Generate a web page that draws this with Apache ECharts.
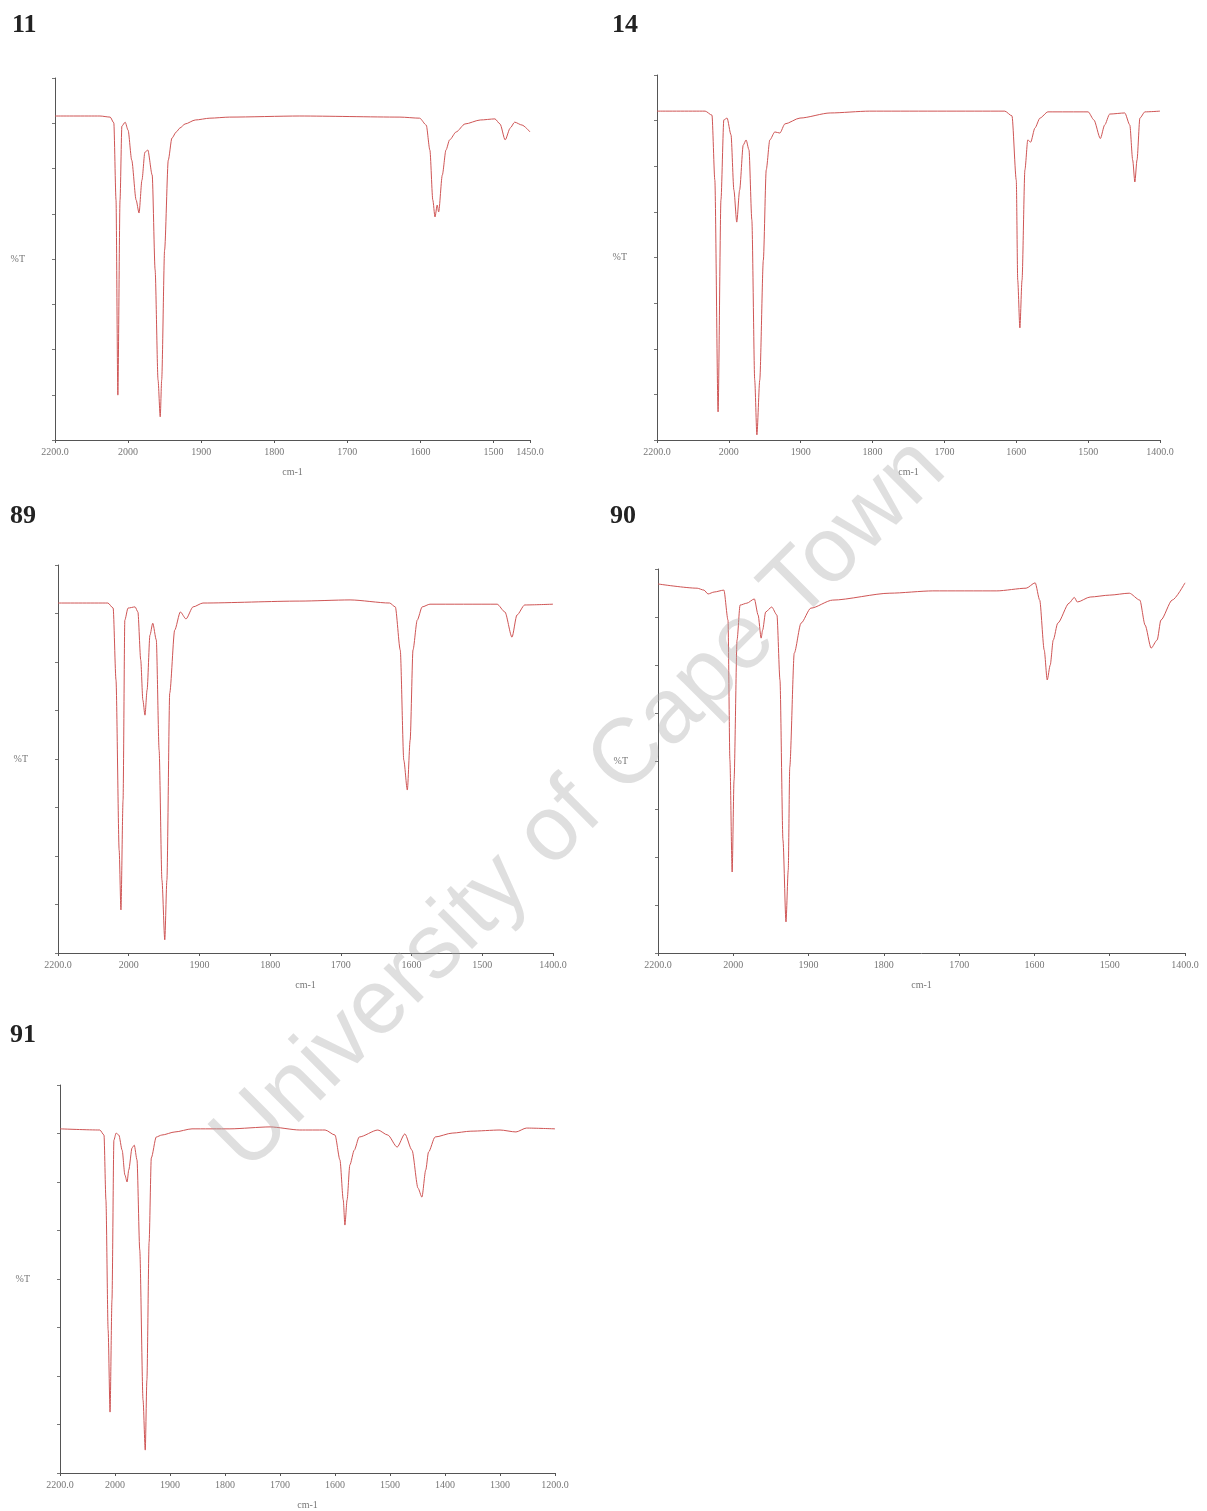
<!DOCTYPE html>
<html>
<head>
<meta charset="utf-8">
<script src="https://cdn.jsdelivr.net/npm/echarts@6/dist/echarts.min.js"></script>
<style>
html, body { margin: 0; background: #fff; }
#main { width: 1207px; height: 1511px; }
</style>
</head>
<body>
<div id="main"></div>
<script>
// IR spectra, wavenumber (cm-1) vs %T
// axis is compressed 2:1 above 2000 cm-1, like the instrument plots

var wave11 = [2200, 2077, 2049, 2039, 2033, 2028, 2022, 2017, 2008, 2000, 1995, 1989, 1985, 1981, 1977, 1973, 1967, 1963, 1959, 1956, 1954, 1950, 1945, 1940, 1934, 1929, 1922, 1908, 1888, 1861, 1765, 1628, 1601, 1592, 1587, 1583, 1580, 1577, 1575, 1570, 1565, 1560, 1551, 1539, 1518, 1498, 1491, 1484, 1477, 1471, 1461, 1450];
var trans11 = [89.5, 89.5, 89.2, 87.6, 66.3, 12.4, 66.3, 86.7, 87.8, 85.6, 77.3, 66.3, 62.7, 71.8, 79.5, 80.1, 73.2, 47.0, 16.6, 6.4, 16.6, 52.5, 77.3, 83.4, 85.1, 86.2, 87.3, 88.4, 88.9, 89.2, 89.5, 89.2, 88.9, 87.0, 80.1, 66.3, 61.6, 64.9, 63.0, 73.2, 80.1, 82.9, 85.1, 87.3, 88.4, 88.7, 87.3, 82.9, 86.2, 87.8, 87.0, 85.1];
var ticks11 = [2200, 2000, 1900, 1800, 1700, 1600, 1500, 1450];

var wave14 = [2200, 2066, 2047, 2039, 2030, 2022, 2014, 2005, 1997, 1993, 1989, 1985, 1980, 1976, 1972, 1968, 1964, 1961, 1957, 1952, 1948, 1943, 1936, 1929, 1922, 1901, 1859, 1804, 1616, 1606, 1600, 1598, 1595, 1592, 1588, 1584, 1580, 1574, 1567, 1556, 1500, 1492, 1483, 1477, 1470, 1449, 1442, 1438, 1435, 1432, 1428, 1421, 1400];
var trans14 = [90.1, 90.1, 89.0, 71.2, 7.7, 65.8, 87.7, 88.2, 83.6, 68.5, 59.7, 68.5, 80.8, 82.2, 79.5, 60.3, 16.4, 1.4, 16.4, 49.3, 74.0, 82.2, 84.4, 84.1, 86.6, 88.2, 89.6, 90.1, 90.1, 88.8, 71.2, 43.8, 30.7, 43.8, 74.0, 82.2, 81.6, 85.5, 88.2, 89.9, 89.9, 87.7, 82.6, 86.3, 89.3, 89.6, 86.3, 76.7, 70.7, 76.7, 88.2, 89.9, 90.1];
var ticks14 = [2200, 2000, 1900, 1800, 1700, 1600, 1500, 1400];

var wave89 = [2200, 2059, 2044, 2036, 2027, 2022, 2016, 2011, 2002, 1991, 1987, 1983, 1980, 1977, 1974, 1970, 1966, 1961, 1957, 1953, 1949, 1946, 1942, 1935, 1927, 1919, 1909, 1895, 1758, 1687, 1631, 1623, 1616, 1611, 1606, 1602, 1598, 1592, 1585, 1574, 1479, 1468, 1458, 1451, 1440, 1400];
var trans89 = [90.2, 90.2, 88.9, 70.4, 26.5, 11.1, 39.4, 85.8, 88.9, 89.2, 87.9, 75.5, 65.2, 61.3, 67.8, 81.9, 85.0, 80.7, 52.3, 18.8, 3.4, 18.8, 67.0, 83.2, 87.9, 86.1, 89.2, 90.2, 90.7, 91.0, 90.2, 89.2, 78.1, 49.7, 42.0, 54.9, 78.1, 85.8, 89.2, 89.9, 89.9, 87.9, 81.4, 87.1, 89.7, 89.9];
var ticks89 = [2200, 2000, 1900, 1800, 1700, 1600, 1500, 1400];

var wave90 = [2200, 2096, 2078, 2067, 2051, 2025, 2014, 2009, 2003, 1999, 1995, 1991, 1982, 1972, 1967, 1963, 1961, 1957, 1949, 1942, 1938, 1934, 1930, 1927, 1925, 1919, 1910, 1897, 1868, 1792, 1735, 1650, 1611, 1599, 1593, 1587, 1583, 1579, 1575, 1569, 1554, 1547, 1543, 1526, 1500, 1474, 1460, 1453, 1445, 1437, 1432, 1417, 1400];
var trans90 = [96.1, 95.0, 94.5, 93.5, 94.0, 94.5, 86.7, 50.3, 21.1, 45.0, 81.5, 90.6, 91.1, 92.2, 88.0, 82.0, 84.1, 88.8, 90.1, 88.0, 71.1, 29.4, 8.1, 21.6, 48.4, 78.1, 85.9, 89.8, 91.9, 93.7, 94.3, 94.3, 95.0, 96.4, 91.9, 78.9, 71.1, 75.0, 81.5, 85.9, 91.1, 92.6, 91.4, 92.7, 93.2, 93.7, 91.9, 85.4, 79.4, 81.5, 86.7, 91.9, 96.4];
var ticks90 = [2200, 2000, 1900, 1800, 1700, 1600, 1500, 1400];

var wave91 = [2200, 2055, 2040, 2033, 2025, 2018, 2011, 2004, 1998, 1993, 1987, 1982, 1978, 1975, 1969, 1965, 1960, 1955, 1949, 1945, 1942, 1938, 1934, 1925, 1915, 1891, 1860, 1791, 1718, 1664, 1618, 1600, 1591, 1585, 1582, 1578, 1573, 1565, 1556, 1522, 1504, 1487, 1473, 1460, 1449, 1442, 1435, 1430, 1418, 1387, 1353, 1300, 1271, 1252, 1200];
var trans91 = [88.7, 88.4, 87.1, 70.4, 36.9, 15.7, 44.6, 85.8, 87.6, 87.1, 83.2, 76.8, 75.0, 78.1, 83.8, 84.5, 80.7, 57.5, 18.8, 5.9, 24.0, 59.5, 81.2, 86.6, 87.1, 87.9, 88.7, 88.7, 89.2, 88.4, 88.4, 87.1, 80.7, 70.4, 63.9, 70.4, 79.4, 83.2, 86.6, 88.4, 87.1, 84.0, 87.4, 83.2, 73.4, 71.1, 78.1, 82.7, 86.6, 87.6, 88.1, 88.4, 87.9, 88.9, 88.7];
var ticks91 = [2200, 2000, 1900, 1800, 1700, 1600, 1500, 1400, 1300, 1200];

// wavenumber -> axis position (2200-2000 squeezed to half)
function toAxis(w) {
    return w > 2000 ? 2000 + (w - 2000) / 2 : w;
}
function fromAxis(u) {
    return u > 2000 ? 2000 + (u - 2000) * 2 : u;
}

var panels = [
    { name: '11', wave: wave11, trans: trans11, ticks: ticks11, left: 55, top: 78, width: 475, height: 362, tx: 12, ty: 12 },
    { name: '14', wave: wave14, trans: trans14, ticks: ticks14, left: 657, top: 75, width: 503, height: 365, tx: 612, ty: 12 },
    { name: '89', wave: wave89, trans: trans89, ticks: ticks89, left: 58, top: 565, width: 495, height: 388, tx: 10, ty: 503 },
    { name: '90', wave: wave90, trans: trans90, ticks: ticks90, left: 658, top: 569, width: 527, height: 384, tx: 610, ty: 503 },
    { name: '91', wave: wave91, trans: trans91, ticks: ticks91, left: 60, top: 1085, width: 495, height: 388, tx: 10, ty: 1022 }
];

var axisFont = { fontFamily: 'Liberation Serif', fontSize: 10, color: '#777' };
var lineColor = '#cf5555';

var option = {
    backgroundColor: '#fff',
    animation: false,
    title: [],
    grid: [],
    xAxis: [],
    yAxis: [],
    series: [],
    graphic: [{
        // watermark across the page
        type: 'text',
        x: 580,
        y: 805,
        rotation: Math.PI / 4,
        z: 100,
        style: {
            text: 'University of Cape Town',
            font: '92px "Liberation Sans", Arial, sans-serif',
            align: 'center',
            verticalAlign: 'middle',
            textAlign: 'center',
            textVerticalAlign: 'middle',
            fill: 'rgba(170,170,170,0.38)'
        }
    }]
};

panels.forEach(function (p, i) {
    var first = p.ticks[0], last = p.ticks[p.ticks.length - 1];
    var tickVals = p.ticks.map(toAxis);
    option.title.push({
        text: p.name,
        left: p.tx,
        top: p.ty,
        padding: 0,
        textStyle: { fontFamily: 'Liberation Serif', fontWeight: 'bold', fontSize: 26, color: '#222' }
    });
    option.grid.push({ left: p.left, top: p.top, width: p.width, height: p.height, containLabel: false });
    option.xAxis.push({
        type: 'value',
        gridIndex: i,
        inverse: true,
        min: toAxis(last),
        max: toAxis(first),
        name: 'cm-1',
        nameLocation: 'middle',
        nameGap: 27,
        nameTextStyle: axisFont,
        axisLine: { lineStyle: { color: '#555', width: 1 } },
        axisTick: { show: true, length: 3, customValues: tickVals, lineStyle: { color: '#555' } },
        axisLabel: {
            customValues: tickVals,
            margin: 7,
            fontFamily: 'Liberation Serif',
            fontSize: 10,
            color: '#777',
            formatter: function (v) {
                var w = Math.round(fromAxis(v));
                return (w === first || w === last) ? w.toFixed(1) : String(w);
            }
        },
        splitLine: { show: false }
    });
    option.yAxis.push({
        type: 'value',
        gridIndex: i,
        min: 0,
        max: 100,
        interval: 12.5,
        name: '%T',
        nameLocation: 'middle',
        nameRotate: 0,
        nameGap: 30,
        nameTextStyle: axisFont,
        axisLine: { show: true, lineStyle: { color: '#555', width: 1 } },
        axisTick: { show: true, length: 3, lineStyle: { color: '#777' } },
        axisLabel: { show: false },
        splitLine: { show: false }
    });
    option.series.push({
        type: 'line',
        xAxisIndex: i,
        yAxisIndex: i,
        showSymbol: false,
        smooth: 0.25,
        smoothMonotone: 'x',
        lineStyle: { color: lineColor, width: 1 },
        data: p.wave.map(function (w, k) { return [toAxis(w), p.trans[k]]; })
    });
});

var chart = echarts.init(document.getElementById('main'), null, { renderer: 'canvas' });
chart.setOption(option);
</script>
</body>
</html>
